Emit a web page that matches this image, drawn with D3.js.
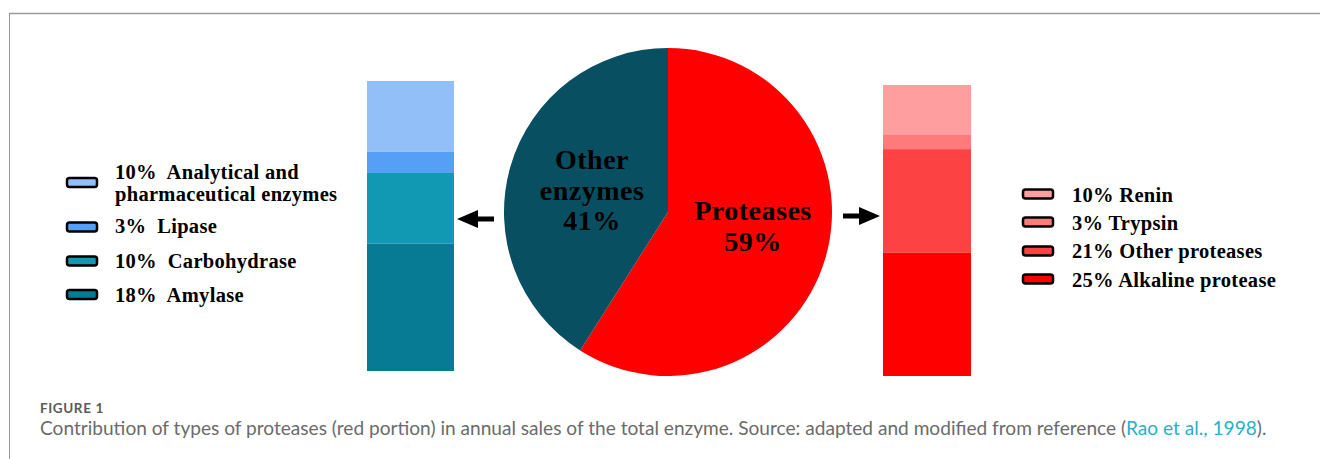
<!DOCTYPE html>
<html>
<head>
<meta charset="utf-8">
<script src="https://cdn.jsdelivr.net/npm/d3@7"></script>
<style>
  html, body { margin: 0; padding: 0; background: #fff; }
  svg { display: block; }
</style>
</head>
<body>
<svg id="chart" width="1320" height="459"></svg>
<script>
// ---- Data ----
const pieCategories = ["Proteases", "Other enzymes"];
const pieValues = [59, 41];
const pieLabels = [["Proteases", "59%"], ["Other", "enzymes", "41%"]];

const otherCategories = ["Analytical and pharmaceutical enzymes", "Lipase", "Carbohydrase", "Amylase"];
const otherValues = [10, 3, 10, 18];
const otherLegendLines = [["10%  Analytical and", "pharmaceutical enzymes"], ["3%  Lipase"], ["10%  Carbohydrase"], ["18%  Amylase"]];

const proteaseCategories = ["Renin", "Trypsin", "Other proteases", "Alkaline protease"];
const proteaseValues = [10, 3, 21, 25];
const proteaseLegendLines = [["10% Renin"], ["3% Trypsin"], ["21% Other proteases"], ["25% Alkaline protease"]];

const captionTitle = "FIGURE 1";
const captionText = "Contribution of types of proteases (red portion) in annual sales of the total enzyme. Source: adapted and modified from reference (";
const captionLink = "Rao et al., 1998";
const captionEnd = ").";

// ---- Styles ----
const pieColors = ["#FF0000", "#074F61"];
const otherColors = ["#93BFF8", "#559FF6", "#1199B3", "#087B94"];
const proteaseColors = ["#FF9E9E", "#FF7B7B", "#FC4242", "#FF0000"];
const serif = "'Liberation Serif', 'Times New Roman', serif";

const svg = d3.select("#chart");

// frame
svg.append("line").attr("x1", 9).attr("x2", 1320).attr("y1", 13.5).attr("y2", 13.5)
  .attr("stroke", "#9a9a9a").attr("stroke-width", 1.5);
svg.append("line").attr("x1", 9.5).attr("x2", 9.5).attr("y1", 13).attr("y2", 459)
  .attr("stroke", "#9a9a9a").attr("stroke-width", 1);

// ---- Pie ----
const cx = 668, cy = 212, R = 164;
const pie = d3.pie().sort(null).value(d => d)(pieValues);
const arc = d3.arc().innerRadius(0).outerRadius(R);
const pg = svg.append("g").attr("transform", `translate(${cx},${cy})`);
pg.selectAll("path").data(pie).join("path")
  .attr("d", arc).attr("fill", (d, i) => pieColors[i]);

const labelPos = [[85, 8], [-76, -43]];
pieLabels.forEach((lines, i) => {
  const t = pg.append("text")
    .attr("text-anchor", "middle")
    .attr("font-family", serif).attr("font-weight", "bold")
    .attr("font-size", 28).attr("letter-spacing", 0.5).attr("fill", "#000");
  lines.forEach((l, j) => {
    t.append("tspan").attr("x", labelPos[i][0]).attr("y", labelPos[i][1] + j * 30.5).text(l);
  });
});

// ---- Stacked bars ----
function stackBar(values, colors, x0, width, top, bottom) {
  const total = d3.sum(values);
  const y = d3.scaleLinear().domain([0, total]).range([top, bottom]);
  let acc = 0;
  const segs = values.map(v => { const s = { start: acc, end: acc + v }; acc += v; return s; });
  svg.append("g").selectAll("rect").data(segs).join("rect")
    .attr("x", x0).attr("width", width)
    .attr("y", d => y(d.start)).attr("height", d => y(d.end) - y(d.start))
    .attr("fill", (d, i) => colors[i]);
}
stackBar(otherValues, otherColors, 367, 87, 81, 371);
stackBar(proteaseValues, proteaseColors, 883, 88, 85, 376);

// ---- Arrows ----
function arrow(tipX, y, dir) {
  const headLen = 21, headHalf = 9, shaftLen = 16, shaftHalf = 2.6;
  const b = tipX - dir * headLen;
  const e = b - dir * shaftLen;
  const p = [[tipX, y], [b, y - headHalf], [b, y - shaftHalf], [e, y - shaftHalf], [e, y + shaftHalf], [b, y + shaftHalf], [b, y + headHalf]];
  svg.append("path").attr("d", "M" + p.map(q => q.join(",")).join("L") + "Z").attr("fill", "#000");
}
arrow(457, 219, -1);
arrow(880, 216, 1);

// ---- Legends ----
function legend(lines, colors, swX, textX, swYs, baseYs) {
  const g = svg.append("g");
  lines.forEach((ls, i) => {
    g.append("rect").attr("x", swX).attr("y", swYs[i] - 4.5).attr("width", 30).attr("height", 9)
      .attr("rx", 2.5).attr("fill", colors[i]).attr("stroke", "#000").attr("stroke-width", 2.5);
    ls.forEach((l, j) => {
      g.append("text").attr("x", textX).attr("y", baseYs[i] + j * 22)
        .attr("font-family", serif).attr("font-weight", "bold").attr("font-size", 20.5)
        .attr("letter-spacing", 0.3)
        .attr("fill", "#000").style("white-space", "pre").text(l);
    });
  });
}
legend(otherLegendLines, otherColors, 67, 115, [182.5, 227, 261, 294.5], [179, 233, 268, 302]);
legend(proteaseLegendLines, proteaseColors, 1023, 1072, [194, 222, 251, 279], [202, 230, 258, 287]);

// ---- Caption ----
svg.append("text").attr("x", 40).attr("y", 413)
  .attr("font-family", "Lato, 'Open Sans', sans-serif").attr("font-weight", "bold")
  .attr("font-size", 13.5).attr("letter-spacing", 0.6).attr("fill", "#5a5a5a").text(captionTitle);

const cap = svg.append("text").attr("x", 40).attr("y", 435)
  .attr("font-family", "Lato, 'Open Sans', sans-serif")
  .attr("font-size", 16).attr("fill", "#6b6b6b");
cap.append("tspan").text(captionText);
cap.append("tspan").attr("fill", "#27b1c6").text(captionLink);
cap.append("tspan").text(captionEnd);
const w = cap.node().getComputedTextLength();
cap.attr("font-size", 16 * 1227 / w);
</script>
</body>
</html>
